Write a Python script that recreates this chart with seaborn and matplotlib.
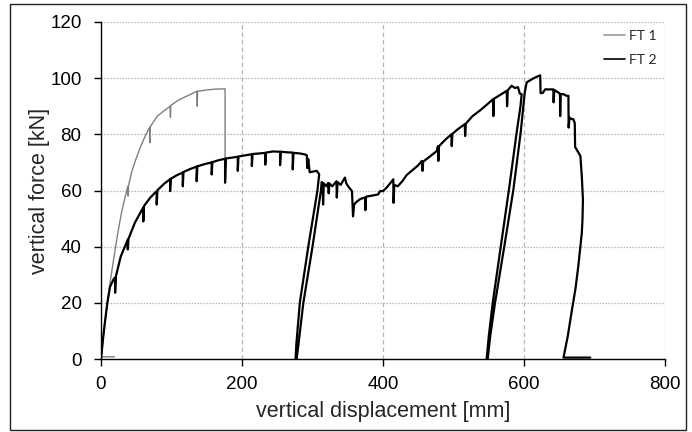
import matplotlib
matplotlib.use("Agg")
import matplotlib.pyplot as plt
import matplotlib.patches as mpatches
from matplotlib.lines import Line2D
import pandas as pd
import seaborn as sns

# set seaborn style
sns.set_style("white")
plt.rcParams['font.family'] = ['Liberation Sans', 'DejaVu Sans']

# FT 1 - displacement [mm] and force [kN]
ft1_disp = [19, 0, 0, 3, 6, 9, 13, 17, 21, 25, 29, 34, 38, 38.5, 39, 44, 50,
            56, 62, 69, 69.5, 70, 80, 90, 98, 98.5, 99, 110, 119, 130, 136,
            136.5, 137, 150, 162, 176, 176]
ft1_force = [0.8, 0.8, 0, 7, 14, 20, 27.5, 34, 40.5, 46.5, 52, 57.5, 61.5, 58,
             61.8, 67, 71.5, 75.5, 79, 82.5, 77, 82.8, 86.5, 88.5, 90, 86, 90.3,
             92.2, 93.3, 94.6, 95.4, 90, 95.3, 95.8, 96.1, 96.2, 62.5]

# FT 2 - loading branch up to the first unloading
ft2_load_disp = [0, 3, 6, 9, 12.8, 18, 20, 20, 21, 28, 38, 38, 39, 48, 60, 60,
                 61, 70, 79, 79, 80, 90, 98, 98, 99, 108, 116, 116, 117, 126,
                 135.7, 135.7, 136.7, 147, 157, 157, 158, 167, 176, 176, 177,
                 185, 194, 194, 195, 204, 214, 214, 215, 225, 233, 233, 234, 244,
                 254, 254, 255, 264, 272, 272, 273, 282, 290, 292, 292.5, 294,
                 296, 306, 309.5]
ft2_load_force = [0, 7.5, 14, 20, 25.7, 28.5, 29, 23.6, 29.3, 36.5, 42.5, 39,
                  42.8, 48.5, 54, 49, 54.5, 57.5, 59.8, 55, 60.1, 62.5, 64, 59.8,
                  64.2, 65.5, 66.4, 61.5, 66.6, 67.6, 68.5, 63.3, 68.6, 69.4, 70,
                  65.7, 70.1, 70.8, 71.3, 62.8, 71.4, 71.7, 72, 67, 72.1, 72.5,
                  72.9, 68.7, 73, 73.2, 73.4, 69.2, 73.5, 73.9, 73.8, 69, 73.8,
                  73.6, 73.5, 67.5, 73.4, 73.2, 72.8, 72.5, 68, 71.2, 66.5, 67,
                  65.8]

# first unloading / reloading loop
ft2_loop1_disp = [307, 294, 282, 277, 276, 277.5, 280, 287, 300, 312, 313]
ft2_loop1_force = [60, 40, 20, 5, 0, 0, 5, 20, 40, 60, 63]

# second loading branch
ft2_mid_disp = [314.5, 315, 316, 320, 322, 323, 324, 328, 334, 334.5, 335.5,
                340, 346, 348, 352, 356, 357.5, 359, 362.6, 368, 374.5, 375, 376,
                385, 393, 396, 400, 405, 410, 414.6, 415, 416, 421, 428, 433.6,
                443, 450, 455, 456, 457, 466, 476, 478, 478.5, 479.5, 488, 497,
                497.5, 498.5, 507, 516, 516.5, 517.5, 527, 537.6, 547, 556,
                556.5, 557.5, 566, 575.5, 576, 577, 582.5, 587, 591.5, 594,
                596.7]
ft2_mid_force = [62.7, 55, 62.5, 61.5, 62.7, 59, 62.5, 61.5, 63.3, 57.5, 63,
                 62, 64.6, 62.5, 61, 59.8, 50.8, 55, 56, 57, 57.5, 53, 57.8,
                 58.2, 58.6, 59.8, 59.8, 61, 62.5, 64, 55.6, 62, 61.5, 63.5,
                 65.5, 67.5, 69, 70.5, 67, 70.3, 72, 74, 75.8, 70.5, 75.8, 78,
                 80, 75.8, 80.2, 82, 83.6, 79.4, 83.8, 86.5, 88.5, 90.5, 92.5,
                 86.5, 92.7, 94, 95.5, 90, 95.7, 97.3, 96.5, 96.8, 94.5, 94.3]

# second unloading / reloading loop
ft2_loop2_disp = [595, 589.6, 581.6, 578.7, 567, 555.6, 550, 547, 548.5, 552,
                  558.9, 572, 585, 595.3, 601]
ft2_loop2_force = [90, 80.7, 65.7, 60.4, 40, 20, 8, 0, 0, 8, 20, 40, 60.4,
                   80.7, 94.8]

# peak and final failure branch
ft2_end_disp = [603.8, 611, 618, 623, 623.5, 626.5, 630, 637, 641.6, 642, 643,
                648, 651, 651.3, 652, 656, 660.5, 663, 663.3, 664.5, 667.6, 670,
                672, 672.5, 676, 680, 682, 683.6, 683, 682, 677, 673, 668, 662,
                656, 694]
ft2_end_force = [98.5, 99.6, 100.5, 101, 94.7, 94.7, 96, 96, 96, 91.4, 95.8,
                 95, 94.5, 86.5, 94.3, 94.3, 93.7, 93.7, 82.4, 86, 85.4, 85.4,
                 84, 75.5, 74, 72.3, 65, 56.8, 50, 44.9, 33, 25, 17.5, 8,
                 0.5, 0.5]

ft1 = pd.DataFrame({'disp': ft1_disp, 'force': ft1_force})
ft2 = pd.DataFrame({
    'disp': ft2_load_disp + ft2_loop1_disp + ft2_mid_disp + ft2_loop2_disp + ft2_end_disp,
    'force': ft2_load_force + ft2_loop1_force + ft2_mid_force + ft2_loop2_force + ft2_end_force,
})

fig = plt.figure(figsize=(6.92, 4.32), dpi=100)
ax = fig.add_axes([101 / 692, 1 - 359 / 432, 564 / 692, 337 / 432])

sns.lineplot(data=ft1, x='disp', y='force', sort=False, estimator=None,
             color='#808080', lw=1.0, ax=ax)
sns.lineplot(data=ft2, x='disp', y='force', sort=False, estimator=None,
             color='black', lw=1.6, ax=ax)

ax.set_xlim(0, 800)
ax.set_ylim(0, 120)
ax.set_xticks([0, 200, 400, 600, 800])
ax.set_yticks([0, 20, 40, 60, 80, 100, 120])

# grid: dotted horizontal, dashed vertical
ax.grid(False)
for yv in [20, 40, 60, 80, 100, 120]:
    ax.axhline(yv, color='#b4b4b4', lw=0.9, ls=(0, (1.2, 1.2)), zorder=0)
for xv in [200, 400, 600, 800]:
    ax.axvline(xv, color='#b4b4b4', lw=0.9, ls=(0, (3.5, 2.5)), zorder=0)

for s in ['top', 'right']:
    ax.spines[s].set_visible(False)
for s in ['left', 'bottom']:
    ax.spines[s].set_color('black')
    ax.spines[s].set_linewidth(1.0)

ax.tick_params(axis='both', direction='out', length=5, width=1, color='black',
               labelsize=13.5, labelcolor='black', bottom=True, left=True)
ax.tick_params(axis='y', pad=9)
ax.tick_params(axis='x', pad=7)

ax.set_xlabel('vertical displacement [mm]', fontsize=15.5, labelpad=6)
ax.set_ylabel('vertical force [kN]', fontsize=15.5, labelpad=0)

handles = [Line2D([], [], color='#999999', lw=1.2),
           Line2D([], [], color='black', lw=1.2)]
ax.legend(handles, ['FT 1', 'FT 2'], loc='upper right', frameon=False,
          bbox_to_anchor=(0.985, 0.977), borderaxespad=0, borderpad=0,
          handlelength=1.55, handletextpad=0.25, labelspacing=0.85,
          prop={'family': 'Lato', 'size': 10})

# outer border around the chart
fig.patches.append(mpatches.Rectangle((10 / 692, 2 / 432), 676 / 692, 426 / 432,
                                      transform=fig.transFigure, fill=False,
                                      ec='#222222', lw=1.0))

fig.savefig('out.png', dpi=100)
